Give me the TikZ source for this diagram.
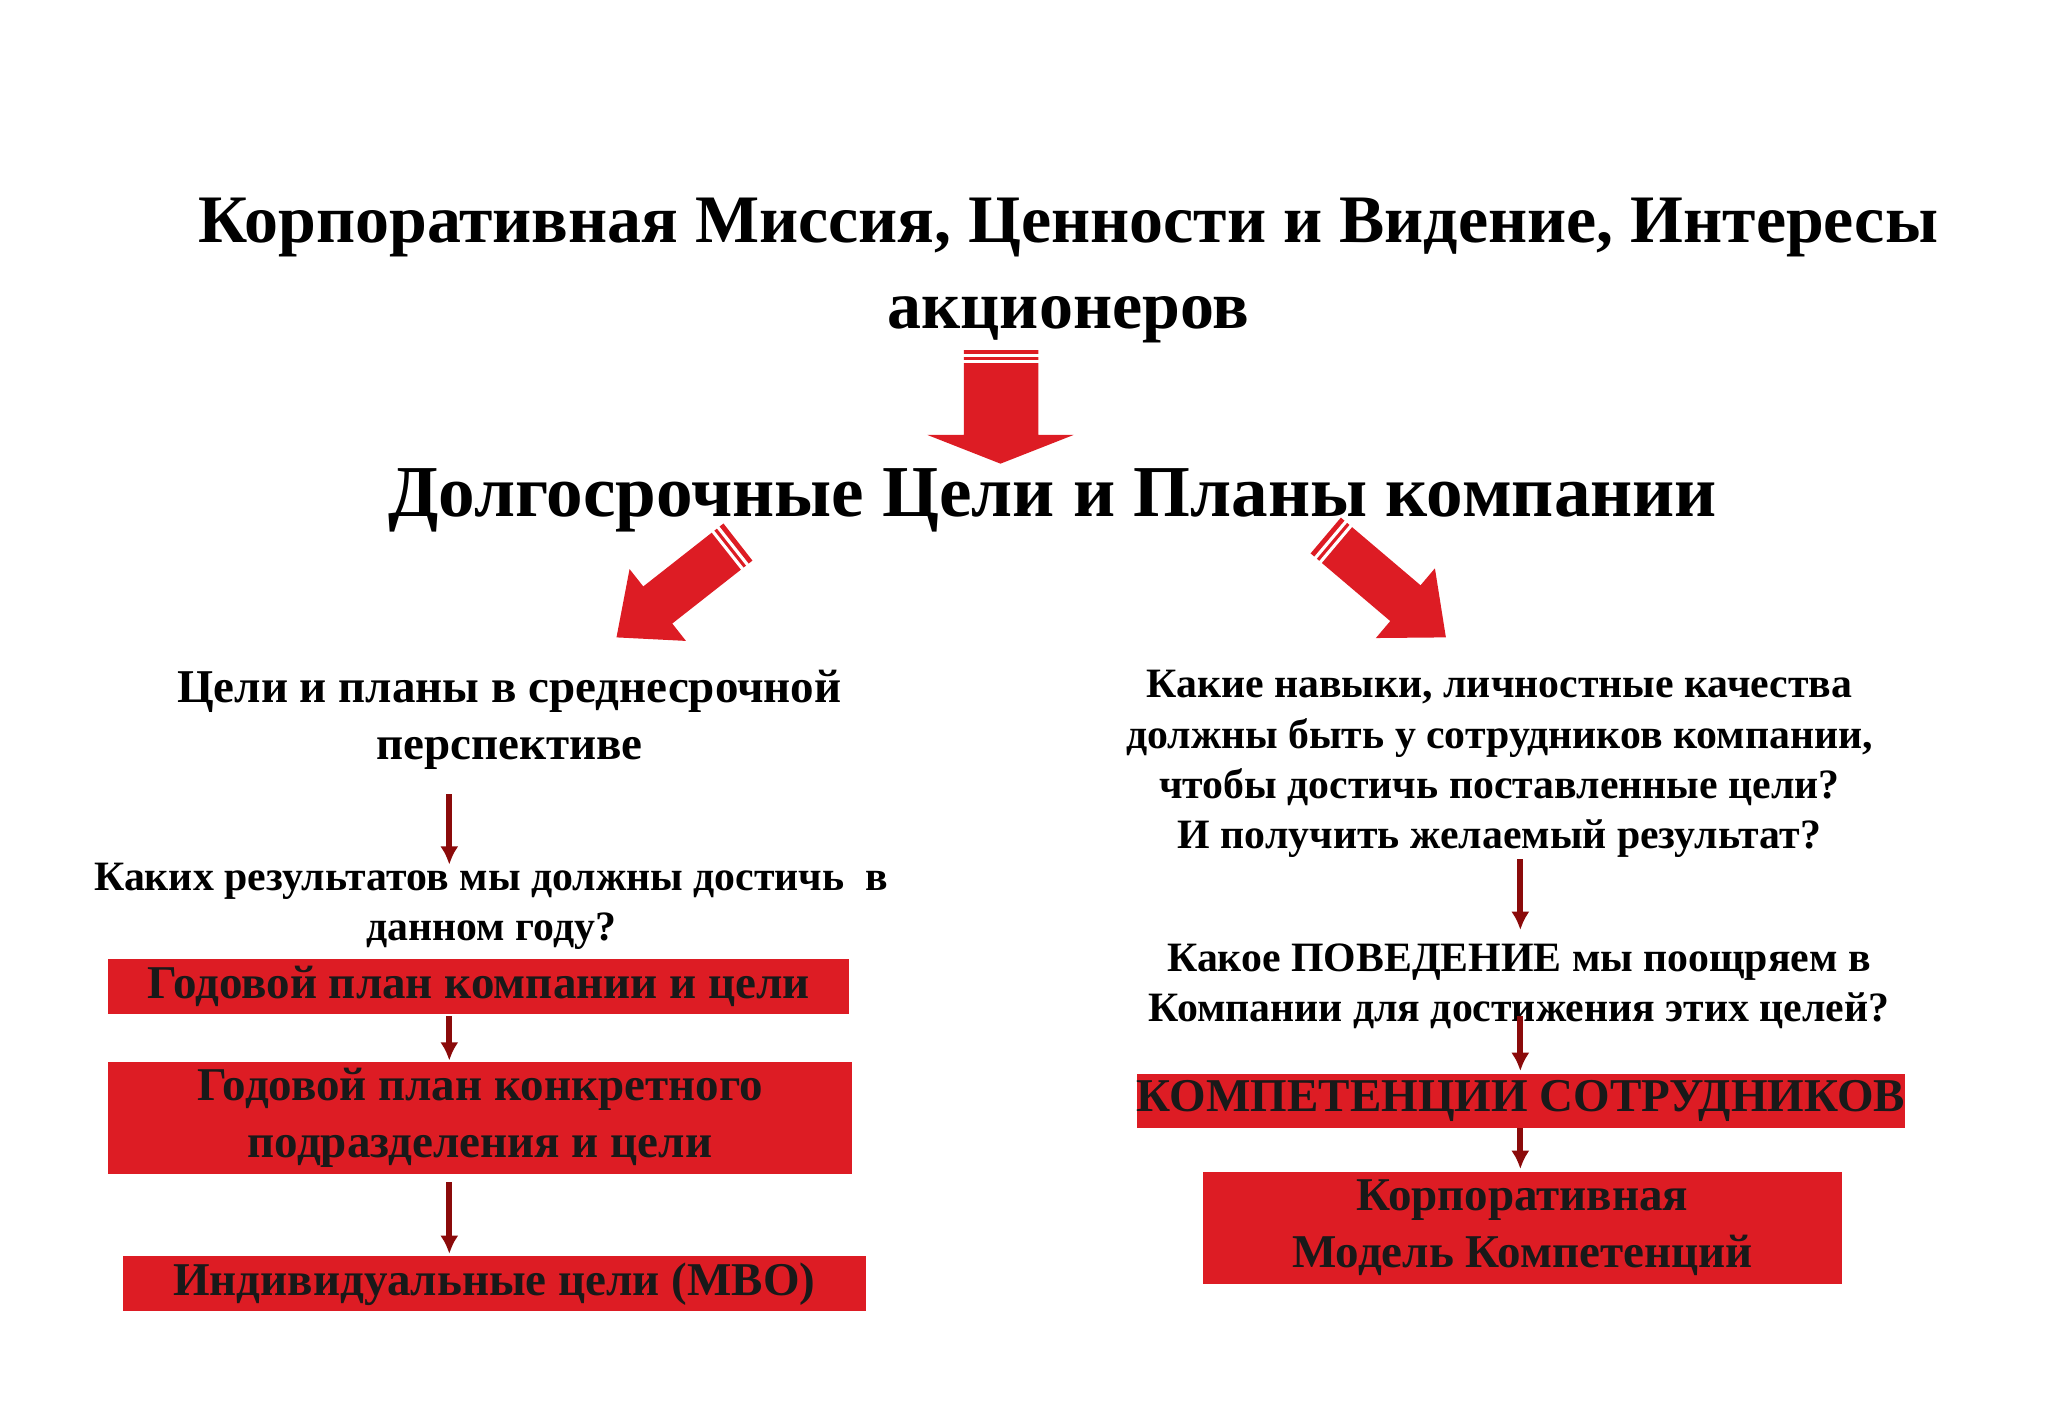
\documentclass[tikz,border=0pt]{standalone}
\usepackage{fontspec}
\setmainfont{Liberation Serif}
\definecolor{bred}{HTML}{DD1C24}
\definecolor{dred}{HTML}{8B0A0A}
\begin{document}
\begin{tikzpicture}[x=0.5pt,y=-0.5pt,
  txt/.style={font=\bfseries\fontsize{15}{19}\selectfont,align=center,inner sep=0},
  box/.style={fill=bred,font=\bfseries\fontsize{18}{22}\selectfont,align=center,inner sep=0,text=black!90},
  sarr/.style={dred,line width=2.2pt,-{Latex[length=7pt,width=7pt]}}]
\usetikzlibrary{arrows.meta}
\useasboundingbox (0,0) rectangle (1568,1085);
\node[txt,font=\bfseries\fontsize{26}{33}\selectfont] (title) at (818,207) {Корпоративная Миссия, Ценности и Видение, Интересы\\акционеров};
% big down arrow
\fill[bred] (738,268) -- (795,268) -- (795,333) -- (822,333) -- (766,355) -- (710,333) -- (738,333) -- cycle;
\draw[white,line width=1.2pt] (736,272)--(797,272) (736,277)--(797,277);
\node[txt,font=\bfseries\fontsize{28}{30}\selectfont] (long) at (806,383) {Долгосрочные Цели и Планы компании};
% diagonal arrows
\fill[bred] (576.1,429.2) -- (514.7,477.4) -- (525.2,490.7) -- (472,488) -- (482,435.7) -- (492.5,449.0) -- (553.9,400.8) -- cycle;
\draw[white,line width=1.2pt] (573.4,433.8)--(548.7,402.4) (569.5,436.9)--(544.7,405.5);
\fill[bred] (1003.4,423.7) -- (1064.4,475.5) -- (1053.4,488.5) -- (1107,488) -- (1098.6,435.1) -- (1087.6,448.1) -- (1026.6,396.3) -- cycle;
\draw[white,line width=1.2pt] (1005.9,428.5)--(1031.7,397.9) (1009.7,431.8)--(1035.5,401.2);
% left column
\node[txt,font=\bfseries\fontsize{18}{22}\selectfont] (l1) at (390,551) {Цели и планы в среднесрочной\\перспективе};
\node[txt,font=\bfseries\fontsize{16}{19}\selectfont] (l2) at (376,694) {Каких результатов мы должны достичь~~в\\данном году?};
\node[box,minimum width=283.5pt,minimum height=21pt] (b1) at (366.5,755) {Годовой план компании и цели};
\node[box,minimum width=284.5pt,minimum height=43pt] (b2) at (367.5,856) {Годовой план конкретного\\подразделения и цели};
\node[box,minimum width=284.5pt,minimum height=21pt] (b3) at (378.5,983) {Индивидуальные цели (MBO)};
\draw[sarr] (344,608) -- (344,662);
\draw[sarr] (344,778) -- (344,812);
\draw[sarr] (344,905) -- (344,960);
% right column
\node[txt,font=\bfseries\fontsize{16}{19.3}\selectfont] (r1) at (1148,585) {Какие навыки, личностные качества\\должны быть у сотрудников компании,\\чтобы достичь поставленные цели?\\И получить желаемый результат?};
\node[txt,font=\bfseries\fontsize{16}{19.3}\selectfont] (r2) at (1163,755) {Какое ПОВЕДЕНИЕ мы поощряем в\\Компании для достижения этих целей?};
\node[box,minimum width=289.5pt,minimum height=21pt] (b4) at (1164.5,843) {КОМПЕТЕНЦИИ СОТРУДНИКОВ};
\node[box,minimum width=244.5pt,minimum height=43pt] (b5) at (1165.5,940) {Корпоративная\\Модель Компетенций};
\draw[sarr] (1164,658) -- (1164,712);
\draw[sarr] (1164,778) -- (1164,820);
\draw[sarr] (1164,864) -- (1164,895);
\end{tikzpicture}
\end{document}
